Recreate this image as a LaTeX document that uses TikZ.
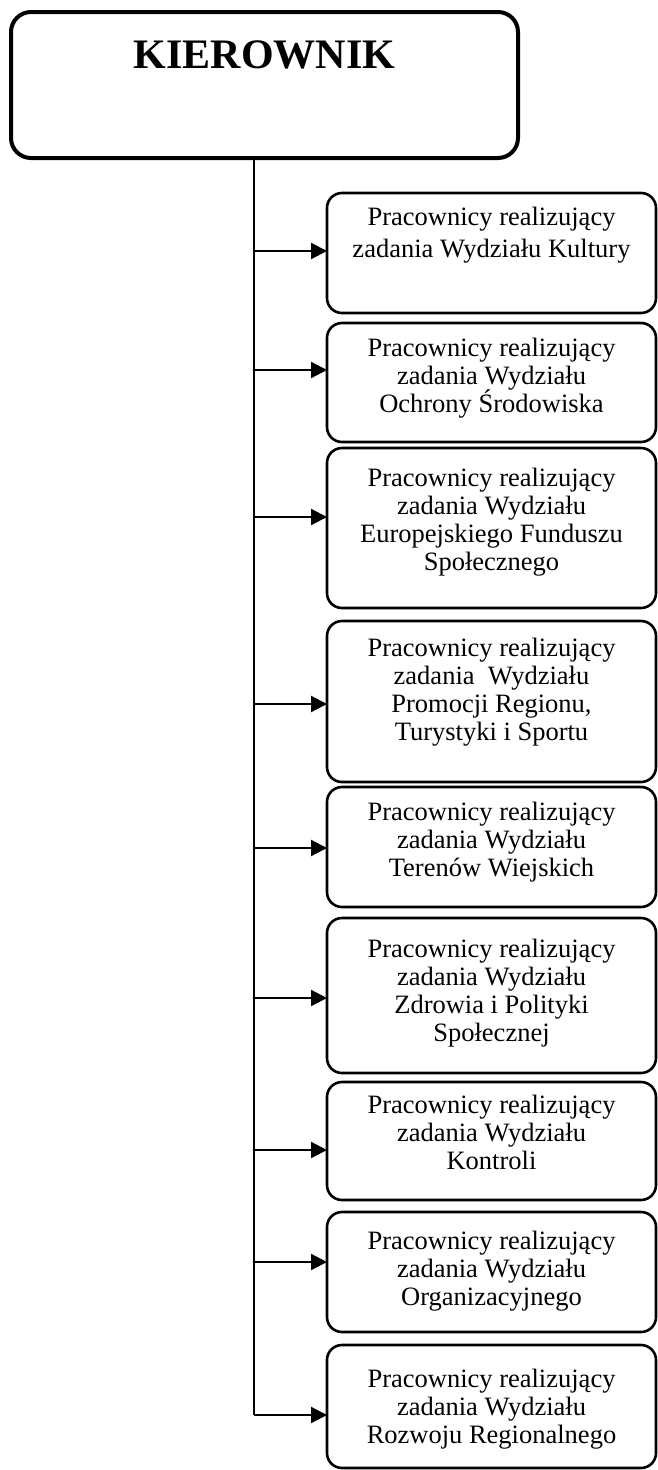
\documentclass[tikz,border=0pt]{standalone}
\usepackage{fontspec}
\setmainfont{Liberation Serif}
\usetikzlibrary{arrows.meta}
\AtBeginDocument{\lineskiplimit=-100pt\relax}
\begin{document}
\begin{tikzpicture}[x=1pt,y=1pt,
  topbox/.style={draw, line width=4pt, rounded corners=20pt, minimum width=507pt, minimum height=146pt, inner sep=0pt, outer sep=0pt, anchor=north west},
  unitbox/.style={draw, line width=2.6pt, rounded corners=15pt, minimum width=329pt, inner sep=0pt, outer sep=0pt, anchor=north west},
  unittext/.style={anchor=north, align=center, inner sep=0pt, font=\fontsize{26.5}{28}\selectfont},
  widetext/.style={anchor=north, align=center, inner sep=0pt, font=\fontsize{26.5}{32}\selectfont},
  headtext/.style={anchor=base, inner sep=0pt, font=\fontsize{42}{42}\selectfont\bfseries},
  conn/.style={line width=2.2pt},
  arr/.style={line width=2.2pt, -{Triangle[length=16pt,width=16pt]}}
]
\useasboundingbox (0,0) rectangle (658,-1470);

% head
\node[topbox] (top) at (11,-12) {};
\node[headtext] (t0) at (264.5,-68) {KIEROWNIK};

% unit boxes
\node[unitbox, minimum height=120pt] (b1) at (327,-193) {};
\node[unitbox, minimum height=119pt] (b2) at (327,-323) {};
\node[unitbox, minimum height=160pt] (b3) at (327,-448) {};
\node[unitbox, minimum height=161pt] (b4) at (327,-621) {};
\node[unitbox, minimum height=120pt] (b5) at (327,-787) {};
\node[unitbox, minimum height=155pt] (b6) at (327,-918) {};
\node[unitbox, minimum height=118pt] (b7) at (327,-1082) {};
\node[unitbox, minimum height=120pt] (b8) at (327,-1212) {};
\node[unitbox, minimum height=123pt] (b9) at (327,-1345) {};

% texts
\node[widetext, yshift=-12pt] (t1) at (b1.north) {\rule{0pt}{20pt}Pracownicy realizujący\\zadania Wydziału Kultury};
\node[unittext, yshift=-13pt] (t2) at (b2.north) {\rule{0pt}{20pt}Pracownicy realizujący\\zadania Wydziału\\Ochrony Środowiska};
\node[unittext, yshift=-18pt] (t3) at (b3.north) {\rule{0pt}{20pt}Pracownicy realizujący\\zadania Wydziału\\Europejskiego Funduszu\\Społecznego};
\node[unittext, yshift=-15pt] (t4) at (b4.north) {\rule{0pt}{20pt}Pracownicy realizujący\\zadania\ \ Wydziału\\Promocji Regionu,\\Turystyki i Sportu};
\node[unittext, yshift=-13pt] (t5) at (b5.north) {\rule{0pt}{20pt}Pracownicy realizujący\\zadania Wydziału\\Terenów Wiejskich};
\node[unittext, yshift=-19pt] (t6) at (b6.north) {\rule{0pt}{20pt}Pracownicy realizujący\\zadania Wydziału\\Zdrowia i Polityki\\Społecznej};
\node[unittext, yshift=-11pt] (t7) at (b7.north) {\rule{0pt}{20pt}Pracownicy realizujący\\zadania Wydziału\\Kontroli};
\node[unittext, yshift=-17pt] (t8) at (b8.north) {\rule{0pt}{20pt}Pracownicy realizujący\\zadania Wydziału\\Organizacyjnego};
\node[unittext, yshift=-22pt] (t9) at (b9.north) {\rule{0pt}{20pt}Pracownicy realizujący\\zadania Wydziału\\Rozwoju Regionalnego};

% connectors
\coordinate (a1) at (254,-251);
\coordinate (a2) at (254,-370);
\coordinate (a3) at (254,-517);
\coordinate (a4) at (254,-704);
\coordinate (a5) at (254,-848);
\coordinate (a6) at (254,-998);
\coordinate (a7) at (254,-1150);
\coordinate (a8) at (254,-1262);
\coordinate (a9) at (254,-1415);

\draw[conn] (a9 |- top.south) -- (a9);
\draw[arr] (a1) -- (a1 -| b1.west);
\draw[arr] (a2) -- (a2 -| b2.west);
\draw[arr] (a3) -- (a3 -| b3.west);
\draw[arr] (a4) -- (a4 -| b4.west);
\draw[arr] (a5) -- (a5 -| b5.west);
\draw[arr] (a6) -- (a6 -| b6.west);
\draw[arr] (a7) -- (a7 -| b7.west);
\draw[arr] (a8) -- (a8 -| b8.west);
\draw[arr] (a9) -- (a9 -| b9.west);
\end{tikzpicture}
\end{document}
